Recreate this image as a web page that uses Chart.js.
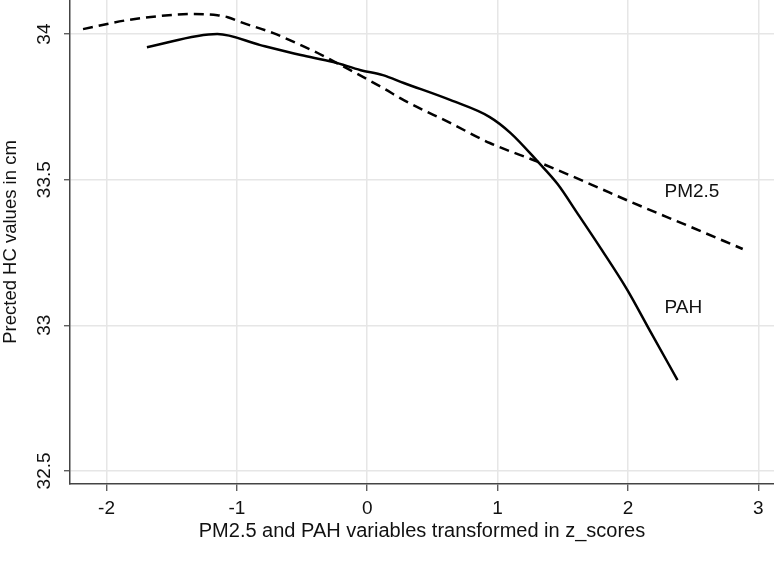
<!DOCTYPE html>
<html>
<head>
<meta charset="utf-8">
<script src="https://cdn.jsdelivr.net/npm/chart.js@4/dist/chart.umd.min.js"></script>
<style>
  html, body { margin: 0; padding: 0; background: #fff; }
  #wrap { width: 774px; height: 561px; position: relative; }
</style>
</head>
<body>
<div id="wrap"><canvas id="c" width="774" height="561"></canvas></div>
<script>
// PM2.5 (dashed)
const pm25X = [-2.18, -1.84, -1.59, -1.33, -1.15, -1.07, -0.97, -0.72, -0.51, -0.38, -0.13, 0.12, 0.28, 0.64, 0.94, 1.31, 1.71, 2.02, 2.48, 2.88];
const pm25Y = [34.017, 34.048, 34.062, 34.069, 34.065, 34.058, 34.041, 34.003, 33.962, 33.935, 33.876, 33.815, 33.773, 33.694, 33.626, 33.561, 33.485, 33.424, 33.338, 33.262];
// PAH (solid)
const pahX = [-1.69, -1.15, -0.82, -0.51, -0.26, -0.05, 0.12, 0.28, 0.64, 0.94, 1.10, 1.31, 1.46, 1.61, 1.79, 1.99, 2.17, 2.38];
const pahY = [33.955, 34.0, 33.962, 33.928, 33.904, 33.876, 33.859, 33.832, 33.773, 33.715, 33.66, 33.561, 33.485, 33.386, 33.265, 33.125, 32.98, 32.812];
const xTicks = [-2, -1, 0, 1, 2, 3];
const yTicks = [32.5, 33, 33.5, 34];
const seriesLabels = ["PM2.5", "PAH"];
const labelX = [2.28, 2.28];
const labelY = [33.458, 33.06];

const FONT = "'Liberation Sans', Arial, sans-serif";

const labelPlugin = {
  id: 'lineLabels',
  afterDatasetsDraw(chart) {
    const ctx = chart.ctx;
    const xs = chart.scales.x, ys = chart.scales.y;
    ctx.save();
    ctx.fillStyle = '#111';
    ctx.font = "19px " + FONT;
    ctx.textAlign = 'left';
    ctx.textBaseline = 'middle';
    seriesLabels.forEach((t, i) => {
      ctx.fillText(t, xs.getPixelForValue(labelX[i]), ys.getPixelForValue(labelY[i]));
    });
    ctx.restore();
  }
};

new Chart(document.getElementById('c'), {
  type: 'scatter',
  data: {
    datasets: [
      {
        label: 'PM2.5',
        data: pm25X.map((x, i) => ({ x, y: pm25Y[i] })),
        showLine: true,
        borderColor: '#000',
        borderWidth: 2.5,
        borderDash: [10, 6],
        pointRadius: 0,
        cubicInterpolationMode: 'monotone',
        fill: false
      },
      {
        label: 'PAH',
        data: pahX.map((x, i) => ({ x, y: pahY[i] })),
        showLine: true,
        borderColor: '#000',
        borderWidth: 2.5,
        pointRadius: 0,
        cubicInterpolationMode: 'monotone',
        fill: false
      }
    ]
  },
  options: {
    responsive: false,
    animation: false,
    layout: { padding: { left: 0, right: 0, top: 0, bottom: 0 } },
    plugins: { legend: { display: false }, tooltip: { enabled: false } },
    scales: {
      x: {
        type: 'linear',
        min: -2.28,
        max: 3.12,
        afterBuildTicks: (s) => { s.ticks = xTicks.map(v => ({ value: v })); },
        afterFit: (s) => { s.height = 77; s.paddingLeft = 0; s.paddingRight = 0; },
        grid: { color: '#e6e6e6', lineWidth: 1.5, drawTicks: true, tickLength: 7, tickColor: '#444', tickWidth: 1.2 },
        border: { color: '#444', width: 1.5 },
        ticks: { color: '#111', font: { family: FONT, size: 19 }, padding: 6.5, maxRotation: 0, callback: (v) => String(v) },
        title: { display: true, text: 'PM2.5 and PAH variables transformed in z_scores', color: '#111', font: { family: FONT, size: 20 }, padding: { top: 0, bottom: 18 } }
      },
      y: {
        type: 'linear',
        min: 32.455,
        max: 34.117,
        afterBuildTicks: (s) => { s.ticks = yTicks.map(v => ({ value: v })); },
        afterFit: (s) => { s.width = 70; s.paddingTop = 0; s.paddingBottom = 0; },
        grid: { color: '#e6e6e6', lineWidth: 1.5, drawTicks: true, tickLength: 6, tickColor: '#444', tickWidth: 1.2 },
        border: { color: '#444', width: 1.5 },
        ticks: { color: '#111', font: { family: FONT, size: 19 }, padding: 1, minRotation: 90, maxRotation: 90, crossAlign: 'center', callback: (v) => String(v) },
        title: { display: true, text: 'Prected HC values in cm', color: '#111', font: { family: FONT, size: 18.5 }, padding: { top: 0, bottom: 4 } }
      }
    }
  },
  plugins: [labelPlugin]
});
</script>
</body>
</html>
